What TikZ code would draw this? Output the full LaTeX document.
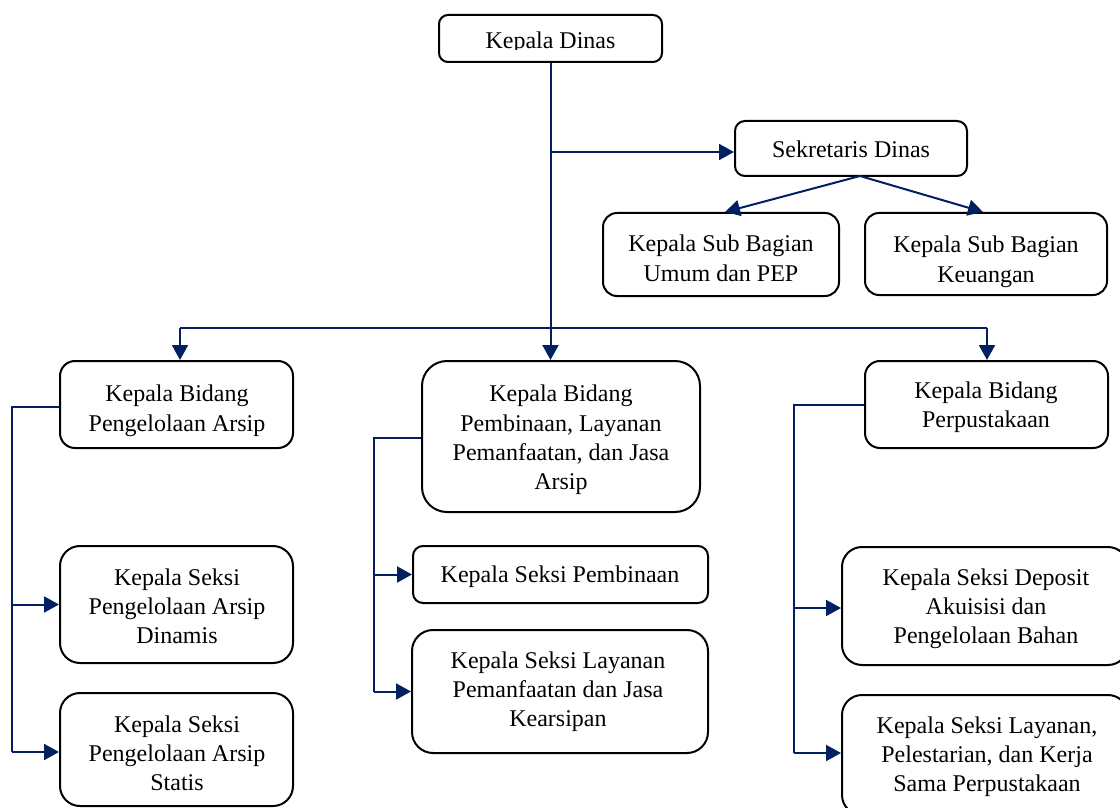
\documentclass[tikz,border=0pt]{standalone}
\usepackage{fontspec}
\setmainfont{Liberation Serif}
\usetikzlibrary{arrows.meta}
\definecolor{conn}{RGB}{0,32,96}
\tikzset{
  orgbox/.style={draw=black, line width=1pt, inner sep=0pt, fill=white},
  txt/.style={align=center, inner sep=0pt, font=\fontsize{12}{14.6}\selectfont, anchor=base},
  link/.style={draw=conn, line width=1pt},
  arr/.style={link, -{Triangle[length=7.5pt,width=8pt]}, color=conn}
}
\newcommand\orgbox[6]{%
  \pgfmathsetmacro\cxx{(#2+#4)/2}\pgfmathsetmacro\cyy{(#3+#5)/2}%
  \pgfmathsetmacro\ww{(#4-#2)*0.5}\pgfmathsetmacro\hh{(#5-#3)*0.5}%
  \node[orgbox, minimum width=\ww pt, minimum height=\hh pt, rounded corners=#6pt] (#1) at (\cxx,\cyy) {};}
\begin{document}
\begin{tikzpicture}[x=0.5pt,y=-0.5pt]
\useasboundingbox (0,0) rectangle (1120,808);
\clip (0,0) rectangle (1120,808);
% boxes
\orgbox{dinas}{439}{15}{662}{62}{4.5}
\orgbox{sek}{735}{121}{967}{176}{5}
\orgbox{umum}{603}{213}{839}{296}{7}
\orgbox{keu}{865}{213}{1107}{295}{7}
\orgbox{bkiri}{60}{361}{293}{448}{7.5}
\orgbox{bmid}{422}{361}{700}{512}{12.5}
\orgbox{bkanan}{865}{361}{1108}{448}{7.5}
\orgbox{dinamis}{60}{546}{293}{663}{10}
\orgbox{statis}{60}{693}{293}{806}{10}
\orgbox{pemb}{413}{546}{708}{603}{5}
\orgbox{layan}{412}{630}{708}{753}{10.5}
\orgbox{depo}{842}{547}{1128}{665}{10}
\orgbox{lpus}{842}{695}{1128}{815}{10}
% texts (anchor = baseline of the last line)
\begin{scope}
\clip (439,15) rectangle (662,49.5);
\node[txt] (tdinas) at (550.5,49) {Kepala Dinas};
\end{scope}
\node[txt] (tsek) at (851,158) {Sekretaris Dinas};
\node[txt] (tumum) at (721,281) {Kepala Sub Bagian\\Umum dan PEP};
\begin{scope}
\clip (865,213) rectangle (1107,287.5);
\node[txt] (tkeu) at (986,282) {Kepala Sub Bagian\\Keuangan};
\end{scope}
\node[txt] (tbkiri) at (177,431) {Kepala Bidang\\Pengelolaan Arsip};
\node[txt] (tbmid) at (561,489.5) {Kepala Bidang\\Pembinaan, Layanan\\Pemanfaatan, dan Jasa\\Arsip};
\node[txt] (tbkanan) at (986,427.5) {Kepala Bidang\\Perpustakaan};
\node[txt] (tdinamis) at (177,643.5) {Kepala Seksi\\Pengelolaan Arsip\\Dinamis};
\node[txt] (tstatis) at (177,790.5) {Kepala Seksi\\Pengelolaan Arsip\\Statis};
\node[txt] (tpemb) at (560,582) {Kepala Seksi Pembinaan};
\node[txt] (tlayan) at (558,726.5) {Kepala Seksi Layanan\\Pemanfaatan dan Jasa\\Kearsipan};
\node[txt] (tdepo) at (986,643.5) {Kepala Seksi Deposit\\Akuisisi dan\\Pengelolaan Bahan};
\node[txt] (tlpus) at (987,791.5) {Kepala Seksi Layanan,\\Pelestarian, dan Kerja\\Sama Perpustakaan};
% connector coordinates
\coordinate (jsek) at (dinas.south |- 0,152);
\coordinate (jbid) at (dinas.south |- 0,328);
\coordinate (jl) at (180,328);
\coordinate (jr) at (987,328);
\coordinate (sekb) at (860,176);
\coordinate (lv) at (12,0);
\coordinate (mv) at (374,0);
\coordinate (rv) at (794,0);
% connectors
\draw[link] (dinas.south) -- (jbid);
\draw[arr] (jbid) -- (jbid |- bmid.north);
\draw[arr] (jsek) -- (sek.west |- jsek);
\draw[arr] (sekb) -- ([xshift=2pt]umum.north);
\draw[arr] (sekb) -- ([xshift=-1.5pt]keu.north);
\draw[link] (jl) -- (jr);
\draw[arr] (jl) -- (jl |- bkiri.north);
\draw[arr] (jr) -- (jr |- bkanan.north);
% left branch
\draw[link] ([yshift=-1.25pt]bkiri.west) -| (lv |- 0,752);
\draw[arr] (lv |- dinamis.west) -- (dinamis.west);
\draw[arr] (lv |- 0,752) -- (statis.west |- 0,752);
% middle branch
\draw[link] ([yshift=-0.75pt]bmid.west) -| (mv |- layan.west);
\draw[arr] (mv |- pemb.west) -- (pemb.west);
\draw[arr] (mv |- layan.west) -- (layan.west);
% right branch
\draw[link] (bkanan.west) -| (rv |- 0,753);
\draw[arr] (rv |- 0,608) -- (depo.west |- 0,608);
\draw[arr] (rv |- 0,753) -- (lpus.west |- 0,753);
\end{tikzpicture}
\end{document}
